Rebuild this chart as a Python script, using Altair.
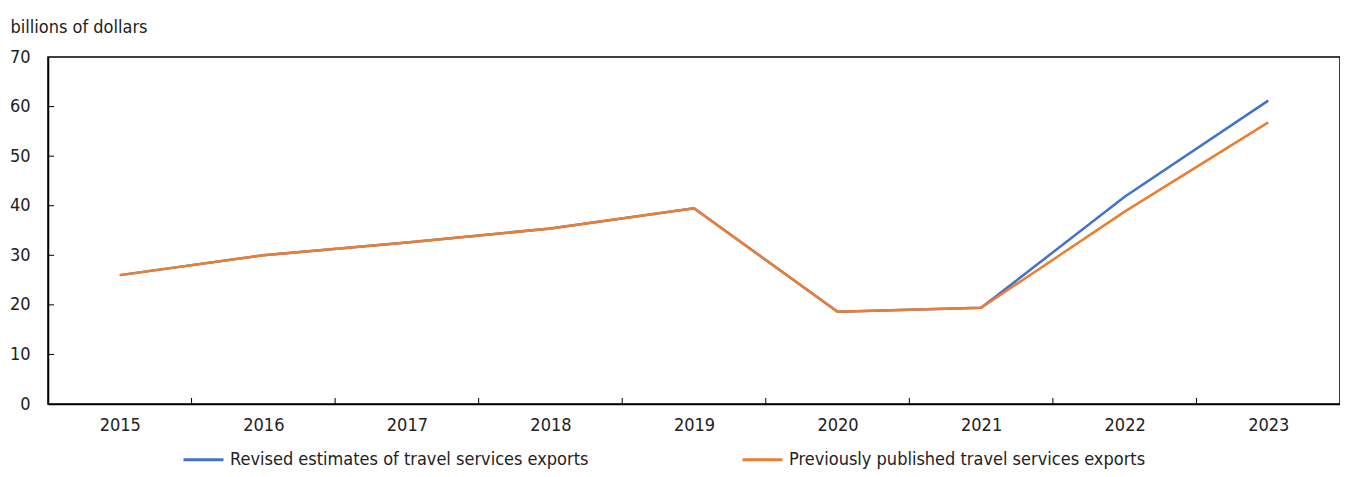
import altair as alt
import pandas as pd

years = [2015, 2016, 2017, 2018, 2019, 2020, 2021, 2022, 2023]
revised = [26.0, 30.0, 32.6, 35.4, 39.5, 18.6, 19.4, 41.8, 61.2]
previous = [26.0, 30.0, 32.6, 35.4, 39.5, 18.6, 19.4, 38.8, 56.8]
series_names = ["Revised estimates of travel services exports",
                "Previously published travel services exports"]
colors = ["#4472C4", "#ED7D31"]
y_ticks = [0, 10, 20, 30, 40, 50, 60, 70]
x_tick_bounds = [2015.5, 2016.5, 2017.5, 2018.5, 2019.5, 2020.5, 2021.5, 2022.5]

FONT = "Liberation Sans Narrow, DejaVu Sans Condensed, sans-serif"
W, H = 1292, 347

df = pd.DataFrame({
    "year": years * 2,
    "value": revised + previous,
    "series": [series_names[0]] * len(years) + [series_names[1]] * len(years),
})

xscale = alt.Scale(domain=[2014.5, 2023.5], nice=False, zero=False)
yscale = alt.Scale(domain=[0, 70], nice=False)
cscale = alt.Scale(domain=series_names, range=colors)

xaxis = alt.Axis(values=years, format="d", ticks=False, grid=False, title=None,
                 labelFontSize=18, labelFont=FONT, labelColor="#222222",
                 labelPadding=12, domainColor="#000000", domainWidth=1.5)
yaxis = alt.Axis(values=y_ticks, ticks=False, grid=False, title="billions of dollars",
                 labelFontSize=18, labelFont=FONT, labelColor="#222222",
                 labelPadding=18, domainColor="#000000", domainWidth=1.5,
                 titleAngle=0, titleAlign="left", titleBaseline="alphabetic",
                 titleX=-38, titleY=-25, titleFont=FONT, titleFontSize=18,
                 titleFontWeight="normal", titleColor="#222222")

legend = alt.Legend(title=None, orient="none", legendX=134, legendY=381,
                    direction="horizontal", columns=2, columnPadding=147,
                    symbolType="stroke", symbolSize=1600, symbolStrokeWidth=3,
                    labelFont=FONT, labelFontSize=18, labelColor="#222222",
                    labelOffset=5, labelLimit=600)

def line_for(name):
    return alt.Chart(df[df["series"] == name]).mark_line(strokeWidth=2.5).encode(
        x=alt.X("year:Q", scale=xscale, axis=xaxis),
        y=alt.Y("value:Q", scale=yscale, axis=yaxis),
        color=alt.Color("series:N", scale=cscale, legend=legend),
    )

ytick_df = pd.DataFrame({"v": y_ticks[1:-1]})
yticks = alt.Chart(ytick_df).mark_rule(color="#000000", strokeWidth=1).encode(
    y=alt.Y("v:Q", scale=yscale),
    x=alt.value(0), x2=alt.value(6),
)
xtick_df = pd.DataFrame({"b": x_tick_bounds})
xticks = alt.Chart(xtick_df).mark_rule(color="#000000", strokeWidth=1).encode(
    x=alt.X("b:Q", scale=xscale),
    y=alt.value(H), y2=alt.value(H - 6),
)

chart = alt.layer(
    line_for(series_names[0]), line_for(series_names[1]), yticks, xticks
).properties(
    width=W, height=H,
    padding={"left": 40, "top": 49, "right": 0, "bottom": 65},
    autosize=alt.AutoSizeParams(type="none"),
).configure(
    background="white"
).configure_view(
    stroke="#000000", strokeWidth=1.5
)

chart.save("out.html", embed_options={"renderer": "svg", "actions": False})
